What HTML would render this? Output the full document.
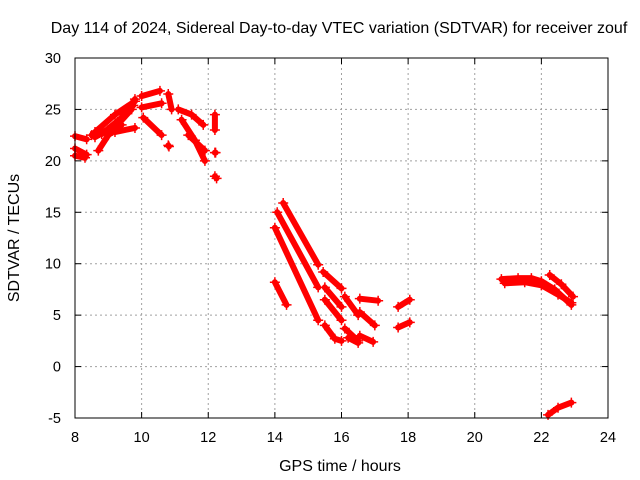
<!DOCTYPE html>
<html><head><meta charset="utf-8"><style>
body{margin:0;background:#fff}
svg{display:block;font-family:"Liberation Sans",sans-serif}
</style></head><body>
<svg id="chart" width="640" height="480" viewBox="0 0 640 480">
<text x="339" y="33" font-size="16" text-anchor="middle">Day 114 of 2024, Sidereal Day-to-day VTEC variation (SDTVAR) for receiver zouf</text>
<text transform="translate(19,238) rotate(-90)" font-size="16" text-anchor="middle">SDTVAR / TECUs</text>
<text x="340" y="471" font-size="16" text-anchor="middle">GPS time / hours</text>
<g id="grid"></g>
<g id="ticks"></g>
<g id="series"></g>
<rect x="75" y="58" width="533" height="360" fill="none" stroke="#000" stroke-width="1"/>
</svg>
<script>
const xTicks=[8,10,12,14,16,18,20,22,24];
const yTicks=[-5,0,5,10,15,20,25,30];
const tracks=[
[[8,22.4],[8.35,22.1]],
[[8,21.2],[8.35,20.6]],
[[8,20.5],[8.3,20.3]],
[[8.5,22.5],[9,23],[9.5,24.5],[9.8,26]],
[[8.6,22.8],[9.2,24.5],[9.8,25.8]],
[[8.6,22.3],[9.3,23.6],[9.7,25]],
[[8.8,22.6],[9.4,24.2],[9.75,25.4]],
[[8.7,21],[9,22.5],[9.4,23.5]],
[[9.2,22.8],[9.8,23.2]],
[[10,26.3],[10.55,26.8]],
[[10,25.2],[10.6,25.6]],
[[10.8,26.5],[10.9,25]],
[[10.05,24.2],[10.6,22.5]],
[[10.8,21.5],[10.82,21.4]],
[[11.1,25],[11.5,24.5],[11.85,23.5]],
[[11.2,24],[11.6,22],[11.9,20]],
[[11.4,22.5],[11.9,21]],
[[12.2,24.5],[12.2,23]],
[[12.2,20.8],[12.22,20.8]],
[[12.2,18.5],[12.25,18.3]],
[[14.25,15.9],[15.3,9.9]],
[[14.07,15],[15.3,7.7]],
[[14,13.5],[15.3,4.5]],
[[14,8.2],[14.35,6]],
[[15.45,9.2],[16,7.6]],
[[15.5,7.7],[16,5.8]],
[[15.5,6.5],[16,4.5]],
[[15.5,4],[15.8,2.7],[16,2.5]],
[[16.1,6.8],[16.5,5]],
[[16.1,3.7],[16.5,2.5]],
[[16.2,2.8],[16.5,2.3]],
[[16.55,6.6],[17.1,6.4]],
[[16.55,5.3],[17,4]],
[[16.55,3],[16.95,2.4]],
[[17.7,5.8],[18.05,6.5]],
[[17.7,3.8],[18.05,4.3]],
[[20.8,8.5],[21.3,8.6],[21.7,8.6],[22,8.3],[22.4,7.5],[22.9,6]],
[[20.9,8.1],[21.5,8.2],[22,7.9],[22.5,7],[22.9,6.2]],
[[22.25,8.9],[22.6,8],[22.95,6.8]],
[[22.2,-4.7],[22.5,-4],[22.9,-3.5]]
];
const NS='http://www.w3.org/2000/svg';
const X0=75,X1=608,Y0=418,Y1=58;
const xs=t=>X0+(t-8)/16*(X1-X0);
const ys=v=>Y0-(v+5)/35*(Y0-Y1);
function mk(tag,attrs,parent){const e=document.createElementNS(NS,tag);for(const k in attrs)e.setAttribute(k,attrs[k]);parent.appendChild(e);return e;}
const grid=document.getElementById('grid'),ticks=document.getElementById('ticks'),ser=document.getElementById('series');
xTicks.forEach(t=>{
 const x=xs(t);
 if(t>8&&t<24){const g=mk('line',{x1:x,y1:Y1,x2:x,y2:Y0,stroke:'#a0a0a0','stroke-dasharray':'2,3'},grid);
 
 }
 mk('line',{x1:x,y1:Y0,x2:x,y2:Y0-6,stroke:'#000'},ticks);
 mk('line',{x1:x,y1:Y1,x2:x,y2:Y1+6,stroke:'#000'},ticks);
 const l=mk('text',{x:x,y:Y0+24,'font-size':14.5,'text-anchor':'middle'},ticks);l.textContent=t;
 
 
});
yTicks.forEach(v=>{
 const y=ys(v);
 if(v>-5&&v<30){const g=mk('line',{x1:X0,y1:y,x2:X1,y2:y,stroke:'#a0a0a0','stroke-dasharray':'2,3'},grid);
 
 }
 mk('line',{x1:X0,y1:y,x2:X0+6,y2:y,stroke:'#000'},ticks);
 mk('line',{x1:X1,y1:y,x2:X1-6,y2:y,stroke:'#000'},ticks);
 const l=mk('text',{x:X0-14,y:y+5,'font-size':14.5,'text-anchor':'end'},ticks);l.textContent=v;
 
 
});
tracks.forEach(tr=>{
 const pts=tr.map(p=>xs(p[0]).toFixed(1)+','+ys(p[1]).toFixed(1)).join(' ');
 const pl=mk('polyline',{points:pts,fill:'none',stroke:'#f00','stroke-width':6,'stroke-linecap':'round','stroke-linejoin':'round'},ser);
 
 
 tr.forEach(p=>{
  const x=xs(p[0]),y=ys(p[1]);
  const c=mk('path',{d:`M${x-5},${y}H${x+5}M${x},${y-5}V${y+5}`,stroke:'#f00','stroke-width':1.5},ser);
  
  
 });
});
</script>
</body></html>
